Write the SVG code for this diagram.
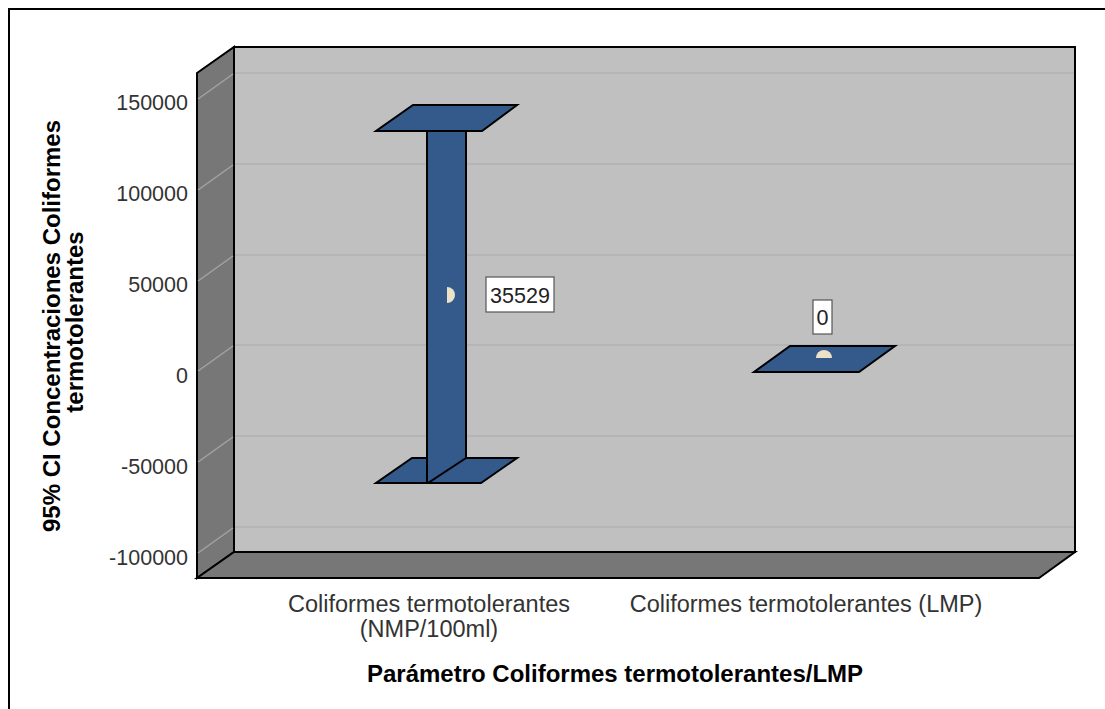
<svg xmlns="http://www.w3.org/2000/svg" width="1105" height="709" viewBox="0 0 1105 709">
<style>
.tick{font-family:"Liberation Sans",Arial,sans-serif;font-size:21.5px;fill:#333;text-anchor:end}
.cat{font-family:"Liberation Sans",Arial,sans-serif;font-size:23.5px;fill:#333;text-anchor:middle}
.title{font-family:"Liberation Sans",Arial,sans-serif;font-size:24px;font-weight:bold;fill:#000;text-anchor:middle}
.lbl{font-family:"Liberation Sans",Arial,sans-serif;font-size:21.5px;fill:#222;text-anchor:middle}
.bar{fill:#345a8c;stroke:#000;stroke-width:2;stroke-linejoin:miter}
.gb{stroke:#b2b2b2;stroke-width:1.5}
.gl{stroke:#a3a3a3;stroke-width:1.5}
.marker{fill:#ece2c8}
.box{fill:#fff;stroke:#555;stroke-width:1.2}
</style>
<rect x="0" y="0" width="1105" height="709" fill="#fff"/>
<rect x="9" y="9" width="1110" height="720" fill="none" stroke="#000" stroke-width="2"/>
<g id="plot-walls">
<polygon points="234,47 1075,47 1075,552 234,552" fill="#c0c0c0" stroke="#000" stroke-width="2"/>
<polygon points="197,73 234,47 234,552 197,578" fill="#777" stroke="#000" stroke-width="2"/>
<polygon points="197,578 234,552 1075,552 1039,578" fill="#777" stroke="#000" stroke-width="2"/>
</g>
<g id="gridlines">
<line class="gb" x1="235" y1="73" x2="1074" y2="73"/>
<line class="gb" x1="235" y1="164" x2="1074" y2="164"/>
<line class="gb" x1="235" y1="255" x2="1074" y2="255"/>
<line class="gb" x1="235" y1="345" x2="1074" y2="345"/>
<line class="gb" x1="235" y1="436" x2="1074" y2="436"/>
<line class="gb" x1="235" y1="527" x2="1074" y2="527"/>
<line class="gl" x1="198" y1="99" x2="233" y2="74"/>
<line class="gl" x1="198" y1="190" x2="233" y2="165"/>
<line class="gl" x1="198" y1="281" x2="233" y2="256"/>
<line class="gl" x1="198" y1="371" x2="233" y2="346"/>
<line class="gl" x1="198" y1="462" x2="233" y2="437"/>
<line class="gl" x1="198" y1="553" x2="233" y2="528"/>
</g>
<g id="y-ticks">
<text class="tick" x="188" y="110">150000</text>
<text class="tick" x="188" y="201">100000</text>
<text class="tick" x="188" y="292">50000</text>
<text class="tick" x="188" y="383">0</text>
<text class="tick" x="188" y="474">-50000</text>
<text class="tick" x="188" y="565">-100000</text>
</g>
<g id="errorbar-nmp">
<polygon class="bar" points="412,458 517,458 481,483 376,483"/>
<polygon class="bar" points="427,131 466,131 466,458 428,483 427,483"/>
<polygon class="bar" points="413,105 517,105 482,131 376,131"/>
<path class="marker" d="M447,287 A8,8 0 0 1 447,303 Z"/>
</g>
<g id="label-35529">
<rect class="box" x="486" y="277" width="68" height="35"/>
<text class="lbl" x="520" y="302.5">35529</text>
</g>
<g id="errorbar-lmp">
<polygon class="bar" points="790,346 895,346 859,372 754,372"/>
<path class="marker" d="M816,358 A8,8 0 0 1 832,358 Z"/>
</g>
<g id="label-0">
<rect class="box" x="813" y="300" width="19" height="34"/>
<text class="lbl" x="822.5" y="325">0</text>
</g>
<g id="x-categories">
<text class="cat" x="429" y="612">Coliformes termotolerantes</text>
<text class="cat" x="429" y="637">(NMP/100ml)</text>
<text class="cat" x="806" y="612">Coliformes termotolerantes (LMP)</text>
</g>
<text class="title" x="615" y="682">Parámetro Coliformes termotolerantes/LMP</text>
<text class="title" transform="translate(59.5,326) rotate(-90)">95% CI Concentraciones Coliformes</text>
<text class="title" transform="translate(82.5,322) rotate(-90)">termotolerantes</text>
</svg>
